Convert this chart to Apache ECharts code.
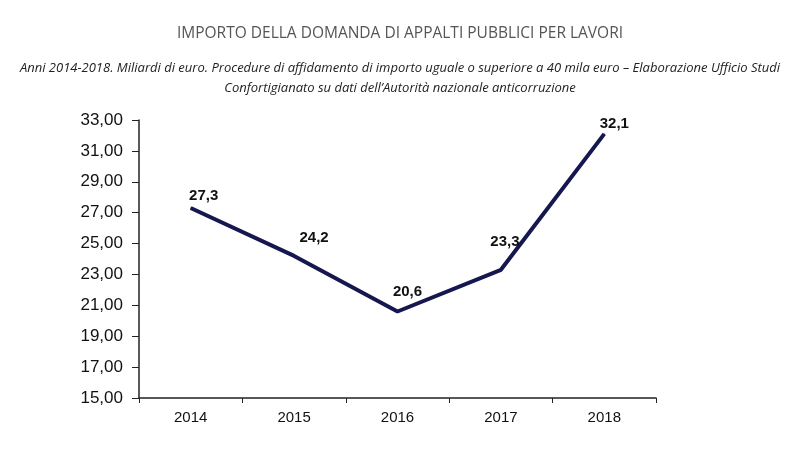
<!DOCTYPE html>
<html><head><meta charset="utf-8">
<script src="https://cdn.jsdelivr.net/npm/echarts@6/dist/echarts.min.js"></script>
<style>html,body{margin:0;padding:0;background:#fff}#c{width:800px;height:456px}</style>
</head><body><div id="c"></div>
<script>
const titleText = 'IMPORTO DELLA DOMANDA DI APPALTI PUBBLICI PER LAVORI';
const subtitleText = "Anni 2014-2018. Miliardi di euro. Procedure di affidamento di importo uguale o superiore a 40 mila euro \u2013 Elaborazione Ufficio Studi\nConfortigianato su dati dell\u2019Autorit\u00e0 nazionale anticorruzione";
const years = ['2014', '2015', '2016', '2017', '2018'];
const values = [27.3, 24.2, 20.6, 23.3, 32.1];

const labelOffsets = [[13, 4], [20, -2], [10, -4], [4, -12], [10, 6]];
const chart = echarts.init(document.getElementById('c'));
chart.setOption({
  backgroundColor: '#fff',
  animation: false,
  title: [{
    text: titleText, left: 'center', top: 21,
    textStyle: {fontFamily: 'Open Sans', fontWeight: 'normal', fontSize: 15.5, color: '#555'}
  }, {
    text: subtitleText, left: 'center', top: 53,
    textStyle: {fontFamily: 'Open Sans', fontStyle: 'italic', fontWeight: 'normal', fontSize: 13, color: '#222', lineHeight: 20}
  }],
  grid: {left: 139, right: 144, top: 120, bottom: 58},
  xAxis: {
    type: 'category', data: years, boundaryGap: true,
    axisLine: {lineStyle: {color: '#222', width: 1.5}},
    axisTick: {show: true, length: 5, lineStyle: {color: '#222'}},
    axisLabel: {fontFamily: 'Liberation Sans', fontSize: 15, color: '#111', margin: 12}
  },
  yAxis: {
    type: 'value', min: 15, max: 33, interval: 2,
    axisLine: {show: true, lineStyle: {color: '#222', width: 1.5}},
    axisTick: {show: true, length: 7, lineStyle: {color: '#222'}},
    splitLine: {show: false},
    axisLabel: {fontFamily: 'Liberation Sans', fontSize: 17, color: '#111', margin: 16,
      formatter: v => v.toFixed(2).replace('.', ',')}
  },
  series: [{
    type: 'line',
    data: values.map((v, i) => ({value: v, label: {offset: labelOffsets[i]}})),
    symbol: 'circle', symbolSize: 1, showSymbol: true,
    itemStyle: {color: '#16174f'},
    lineStyle: {color: '#16174f', width: 4},
    label: {show: true, position: 'top', distance: 8, fontFamily: 'Liberation Sans', fontWeight: 'bold', fontSize: 15, color: '#111',
      formatter: p => String(p.value).replace('.', ',')}
  }]
});
</script></body></html>
